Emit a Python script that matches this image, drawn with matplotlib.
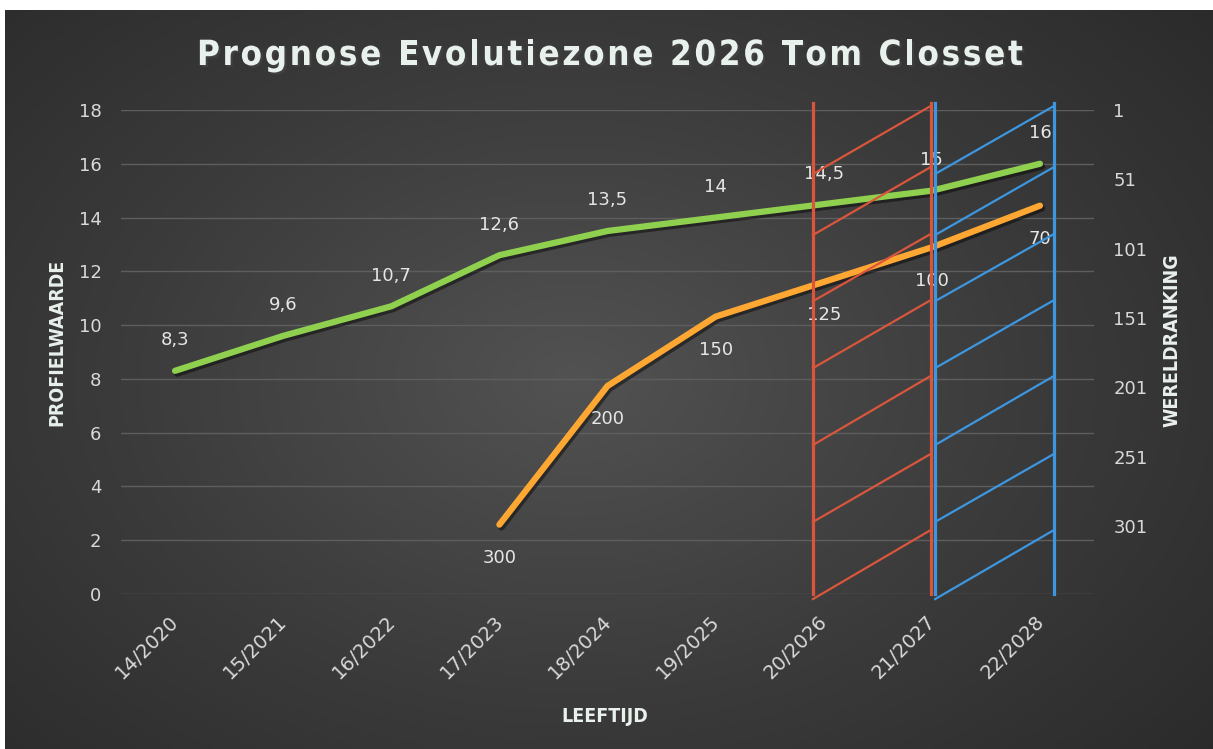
import numpy as np
import matplotlib.pyplot as plt
import matplotlib.patheffects as pe
from matplotlib.colors import LinearSegmentedColormap
from matplotlib.transforms import ScaledTranslation

plt.rcParams['font.family'] = ['DejaVu Sans']

# data uit de grafiek
leeftijd = ['14/2020', '15/2021', '16/2022', '17/2023', '18/2024',
            '19/2025', '20/2026', '21/2027', '22/2028']
profielwaarde = [8.3, 9.6, 10.7, 12.6, 13.5, 14, 14.5, 15, 16]
wereldranking = [np.nan, np.nan, np.nan, 300, 200, 150, 125, 100, 70]
profiel_ticks = list(range(0, 19, 2))
ranking_ticks = [1, 51, 101, 151, 201, 251, 301]
titel = 'Prognose Evolutiezone 2026 Tom Closset'

# evolutiezones (gearceerde kaders), in eenheden van de linker as
zone_rood = (5.9, 6.99)
zone_blauw = (7.03, 8.13)
zone_top = 18.25
diag_links = [15.62, 13.35, 10.89, 8.40, 5.54, 2.68, -0.19]
diag_rechts = [18.15, 15.88, 13.39, 10.93, 8.11, 5.21, 2.38]

W, H = 1213, 749
fig = plt.figure(figsize=(W / 100, H / 100), dpi=100)
fig.patch.set_facecolor('white')

# achtergrond met radiale gradient
bg = fig.add_axes([5 / W, 0, (W - 5) / W, (H - 10) / H])
cmap = LinearSegmentedColormap.from_list('bg', ['#525252', '#3b3b3b', '#282828'])
yy, xx = np.mgrid[0:1:300j, 0:1:500j]
r = np.sqrt(((xx - 0.47) / 0.75) ** 2 + ((yy - 0.5) / 0.85) ** 2)
bg.imshow(r, cmap=cmap, vmin=0, vmax=1, aspect='auto', extent=[0, 1, 0, 1])
bg.axis('off')

pos = [121 / W, 155 / H, (1094 - 121) / W, 484 / H]
ax = fig.add_axes(pos)
ax.patch.set_visible(False)
ax.set_xlim(-0.5, 8.5)
ax.set_ylim(0, 18)
ax.set_yticks(profiel_ticks)
ax.grid(axis='y', color='#5e5e5e', lw=1)
ax.set_axisbelow(True)
for s in ax.spines.values():
    s.set_visible(False)
ax.tick_params(length=0, colors='#d9d9d9', labelsize=13, pad=14)
ax.set_xticks(range(len(leeftijd)))
ax.set_xticklabels(leeftijd, rotation=45, ha='right', va='center', rotation_mode='anchor', fontsize=14)
for lab in ax.get_xticklabels():
    lab.set_transform(lab.get_transform() + ScaledTranslation(1 / 100, -5 / 100, fig.dpi_scale_trans))

schaduw = [pe.SimpleLineShadow(offset=(1.5, -2), alpha=0.45), pe.Normal()]

ax.plot(range(len(profielwaarde)), profielwaarde, color='#8fd14f', lw=4.5,
        solid_capstyle='round', path_effects=schaduw, zorder=3)
for i, v in enumerate(profielwaarde):
    ax.annotate(f'{v:g}'.replace('.', ','), (i, v), xytext=(0, 22), textcoords='offset points',
                ha='center', va='center', color='#e6e6e6', fontsize=13)

ax2 = ax.twinx()
ax2.set_ylim(350, 1)
ax2.set_yticks(ranking_ticks)
for s in ax2.spines.values():
    s.set_visible(False)
ax2.tick_params(length=0, colors='#d9d9d9', labelsize=13, pad=14)
ax2.plot(range(len(wereldranking)), wereldranking, color='#ffa733', lw=4.5,
         solid_capstyle='round', path_effects=schaduw, zorder=3)
for i, v in enumerate(wereldranking):
    if not np.isnan(v):
        ax2.annotate(f'{v:g}', (i, v), xytext=(0, -24), textcoords='offset points',
                     ha='center', va='center', color='#e6e6e6', fontsize=13)

# overlay voor de zones
ov = fig.add_axes(pos)
ov.set_xlim(ax.get_xlim())
ov.set_ylim(ax.get_ylim())
ov.axis('off')
for (x0, x1), kleur in [(zone_rood, '#d9563c'), (zone_blauw, '#3d97e0')]:
    ov.plot([x0, x0], [0, zone_top], color=kleur, lw=2.3, clip_on=False)
    ov.plot([x1, x1], [0, zone_top], color=kleur, lw=2.3, clip_on=False)
    for yl, yr in zip(diag_links, diag_rechts):
        ov.plot([x0, x1], [yl, yr], color=kleur, lw=1.6, clip_on=False)

tekst = '#e9f1ed'
vet = dict(fontsize=14, weight='bold', fontstretch='condensed', color=tekst, ha='center', va='center')

# titel met extra letterafstand, letter per letter geplaatst
titel_stijl = dict(fontsize=25, weight='bold', fontstretch='condensed', color=tekst, va='center',
                   path_effects=[pe.withSimplePatchShadow(offset=(1.5, -1.5), alpha=0.6)])
renderer = fig.canvas.get_renderer()
breedtes = []
for ch in titel:
    t = fig.text(0, 0, ch if ch != ' ' else 'n', **titel_stijl)
    breedtes.append(t.get_window_extent(renderer).width * (0.5 if ch == ' ' else 1))
    t.remove()
spatie = (826 - sum(breedtes)) / (len(titel) - 1)
x = 197
for ch, b in zip(titel, breedtes):
    fig.text(x / W, 1 - 55 / H, ch, ha='left', **titel_stijl)
    x += b + spatie

fig.text(57 / W, 1 - 342 / H, 'PROFIELWAARDE', rotation=90, **vet)
fig.text(1172 / W, 1 - 340 / H, 'WERELDRANKING', rotation=90, **vet)
fig.text(605 / W, 1 - 716 / H, 'LEEFTIJD', **vet)

fig.savefig('out.png', dpi=100)
